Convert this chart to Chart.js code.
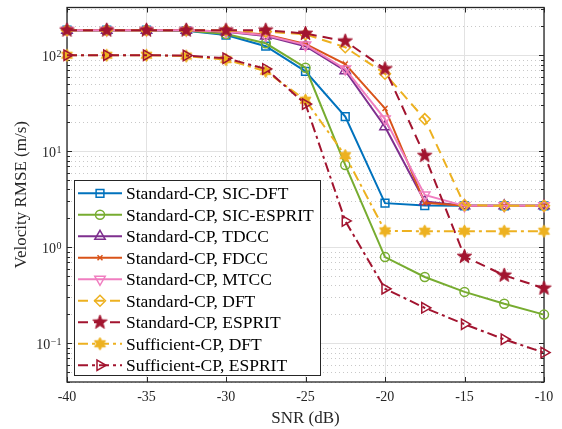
<!DOCTYPE html>
<html><head><meta charset="utf-8">
<script src="https://cdn.jsdelivr.net/npm/chart.js@4/dist/chart.umd.min.js"></script>
<style>html,body{margin:0;padding:0;background:#fff}canvas{display:block}</style>
</head><body>
<canvas id="c" width="562" height="429"></canvas>
<script>
// ---------- data ----------
const snr = [-40,-37.5,-35,-32.5,-30,-27.5,-25,-22.5,-20,-17.5,-15,-12.5,-10];
const sicDft    = [182,182,182,180,162,124,68,22.9,2.88,2.72,2.7,2.7,2.7];
const sicEsprit = [182,182,182,181,166,133,74,7.2,0.79,0.49,0.343,0.258,0.199];
const tdcc      = [182,182,182,182,175,158,124,69,18,3.0,2.7,2.7,2.7];
const fdcc      = [182,182,182,182,177,164,131,81,27.9,2.9,2.7,2.7,2.7];
const mtcc      = [182,182,182,182,176,161,128,72,21.6,3.5,2.7,2.7,2.7];
const stdDft    = [182,182,182,182,181,176,165,121,64,21.6,2.75,2.7,2.7];
const stdEsprit = [182,182,182,182,182,182,168,140,72,9.0,0.80,0.51,0.374];
const sufDft    = [100,100,100,98,90,68,34,9.0,1.48,1.47,1.47,1.47,1.47];
const sufEsprit = [100,100,100,99,93,72,31,1.88,0.37,0.234,0.158,0.11,0.080];
const seriesLabels = ['Standard-CP, SIC-DFT','Standard-CP, SIC-ESPRIT','Standard-CP, TDCC','Standard-CP, FDCC','Standard-CP, MTCC','Standard-CP, DFT','Standard-CP, ESPRIT','Sufficient-CP, DFT','Sufficient-CP, ESPRIT'];
const xTickValues = [-40,-35,-30,-25,-20,-15,-10];
const yMajorValues = [0.1,1,10,100];
const yMajorExponents = ['-1','0','1','2'];
const xTitle = 'SNR (dB)';
const yTitle = 'Velocity RMSE (m/s)';

// ---------- styling ----------
const AX = '#262626';
const SERIF = '"Liberation Serif", "Times New Roman", serif';
const C = {blue:'#0072BD', green:'#77AC30', purple:'#7E2F8E', orange:'#D95319', pink:'#F07EC0', yellow:'#EDB120', red:'#A2142F'};
const DASH = [10,6], DASHDOT = [10,4,3,4];

function starCanvas(color, R, r, n){
  const s = Math.ceil(2*R + 4);
  const c = document.createElement('canvas'); c.width = s; c.height = s;
  const g = c.getContext('2d'); g.translate(s/2, s/2);
  g.beginPath();
  for (let i = 0; i < 2*n; i++){
    const a = -Math.PI/2 + i*Math.PI/n, rr = (i%2) ? r : R;
    g.lineTo(rr*Math.cos(a), rr*Math.sin(a));
  }
  g.closePath(); g.fillStyle = color; g.fill();
  g.strokeStyle = color; g.lineWidth = 1; g.stroke();
  return c;
}
const starImg = starCanvas(C.red, 7.5, 3.1, 5);
const hexImg = starCanvas(C.yellow, 6.3, 3.6, 6);

function ds(i, data, color, style, extra){
  return Object.assign({
    label: seriesLabels[i],
    data: snr.map((x, k) => ({x, y: data[k]})),
    borderColor: color, backgroundColor: 'rgba(0,0,0,0)',
    pointBorderColor: color, pointBackgroundColor: 'rgba(0,0,0,0)',
    borderWidth: 2, pointBorderWidth: 1.5, pointStyle: style, pointRadius: 5,
    pointHoverRadius: 5, tension: 0, clip: false, order: 20 - i
  }, extra || {});
}

const datasets = [
  ds(0, sicDft, C.blue, 'rect', {pointRadius: 5.5}),
  ds(1, sicEsprit, C.green, 'circle', {pointRadius: 4.5}),
  ds(2, tdcc, C.purple, 'triangle', {pointRadius: 6}),
  ds(3, fdcc, C.orange, 'crossRot', {pointRadius: 3.5}),
  ds(4, mtcc, C.pink, 'triangle', {pointRadius: 6, pointRotation: 180}),
  ds(5, stdDft, C.yellow, 'rectRot', {pointRadius: 5.5, borderDash: DASH}),
  ds(6, stdEsprit, C.red, starImg, {borderDash: DASH}),
  ds(7, sufDft, C.yellow, hexImg, {borderDash: DASHDOT}),
  ds(8, sufEsprit, C.red, 'triangle', {pointRadius: 6, pointRotation: 90, borderDash: DASHDOT})
];

function isMajor(v){ const l = Math.log10(v); return Math.abs(l - Math.round(l)) < 1e-6; }

const axesPlugin = {
  id: 'axesDeco',
  beforeDatasetsDraw(chart){
    const {ctx, chartArea: a, scales: {x, y}} = chart;
    ctx.save();
    ctx.strokeStyle = '#c8c8c8'; ctx.lineWidth = 1; ctx.setLineDash([1,3]);
    const minors = [];
    for (let e = -2; e <= 3; e++) for (let m = 2; m <= 9; m++){
      const v = m*Math.pow(10, e);
      if (v > y.min && v < y.max) minors.push(v);
    }
    minors.forEach(v => {
      const py = Math.round(y.getPixelForValue(v)) + 0.5;
      ctx.beginPath(); ctx.moveTo(a.left, py); ctx.lineTo(a.right, py); ctx.stroke();
    });
    ctx.setLineDash([]);
    ctx.strokeStyle = AX; ctx.lineWidth = 1.3;
    ctx.strokeRect(a.left, a.top, a.right - a.left, a.bottom - a.top);
    ctx.lineWidth = 1;
    ctx.beginPath();
    yMajorValues.forEach(v => {
      const py = Math.round(y.getPixelForValue(v)) + 0.5;
      ctx.moveTo(a.left, py); ctx.lineTo(a.left + 5, py);
      ctx.moveTo(a.right, py); ctx.lineTo(a.right - 5, py);
    });
    minors.forEach(v => {
      const py = Math.round(y.getPixelForValue(v)) + 0.5;
      ctx.moveTo(a.left, py); ctx.lineTo(a.left + 3, py);
      ctx.moveTo(a.right, py); ctx.lineTo(a.right - 3, py);
    });
    xTickValues.forEach(v => {
      const px = Math.round(x.getPixelForValue(v)) + 0.5;
      ctx.moveTo(px, a.bottom); ctx.lineTo(px, a.bottom - 5);
      ctx.moveTo(px, a.top); ctx.lineTo(px, a.top + 5);
    });
    ctx.stroke();
    ctx.fillStyle = AX; ctx.textBaseline = 'alphabetic'; ctx.textAlign = 'left';
    yMajorValues.forEach((v, i) => {
      const py = y.getPixelForValue(v);
      const exp = yMajorExponents[i].replace('-', '\u2212');
      ctx.font = '10px ' + SERIF; const we = ctx.measureText(exp).width;
      ctx.font = '14px ' + SERIF; const wb = ctx.measureText('10').width;
      const right = 61.5, ex = right - we, bx = ex - wb - 0.5;
      ctx.fillText('10', bx, py + 6);
      ctx.font = '10px ' + SERIF; ctx.fillText(exp, ex, py + 1.5);
    });
    ctx.restore();
  },
  afterDraw(chart){
    const {ctx} = chart;
    ctx.save();
    const L = 74, T = 180, R = 321, B = 376;
    ctx.fillStyle = '#ffffff'; ctx.fillRect(L, T, R - L, B - T);
    ctx.strokeStyle = AX; ctx.lineWidth = 1;
    ctx.strokeRect(L + 0.5, T + 0.5, R - L - 1, B - T - 1);
    chart.data.datasets.forEach((d, i) => {
      const cy = 193.3 + i*21.5;
      ctx.strokeStyle = d.borderColor; ctx.lineWidth = d.borderWidth;
      ctx.setLineDash(d.borderDash || []);
      ctx.beginPath(); ctx.moveTo(78, cy); ctx.lineTo(122, cy); ctx.stroke();
      ctx.setLineDash([]);
      ctx.strokeStyle = d.pointBorderColor; ctx.fillStyle = d.pointBackgroundColor;
      ctx.lineWidth = d.pointBorderWidth;
      Chart.helpers.drawPoint(ctx, {pointStyle: d.pointStyle, rotation: d.pointRotation || 0,
        radius: d.pointRadius, borderWidth: d.pointBorderWidth}, 100, cy);
      ctx.fillStyle = '#000'; ctx.font = '17.5px ' + SERIF;
      ctx.textAlign = 'left'; ctx.textBaseline = 'alphabetic';
      ctx.fillText(d.label, 126, cy + 6);
    });
    ctx.restore();
  }
};

new Chart(document.getElementById('c'), {
  type: 'line',
  data: {datasets},
  options: {
    responsive: false, animation: false, devicePixelRatio: 1,
    layout: {padding: {top: 5, right: 18, left: 0, bottom: 0}},
    plugins: {legend: {display: false}, tooltip: {enabled: false}},
    scales: {
      x: {
        type: 'linear', min: -40, max: -10,
        afterBuildTicks: s => { s.ticks = xTickValues.map(v => ({value: v})); },
        afterFit: s => { s.height = 47; },
        ticks: {font: {family: SERIF, size: 14}, color: AX, padding: 7, maxRotation: 0},
        grid: {color: '#e2e2e2', drawTicks: false},
        border: {display: false},
        title: {display: true, text: xTitle, font: {family: SERIF, size: 17}, color: AX, padding: {top: 0, bottom: 0}}
      },
      y: {
        type: 'logarithmic', min: 0.03954, max: 313.8,
        afterFit: s => { s.width = 67; },
        ticks: {display: false},
        grid: {color: c => (c.tick && isMajor(c.tick.value)) ? '#e2e2e2' : 'rgba(0,0,0,0)', drawTicks: false},
        border: {display: false},
        title: {display: true, text: yTitle, font: {family: SERIF, size: 17}, color: AX, padding: {top: 11, bottom: 0}}
      }
    }
  },
  plugins: [axesPlugin]
});
</script>
</body></html>
